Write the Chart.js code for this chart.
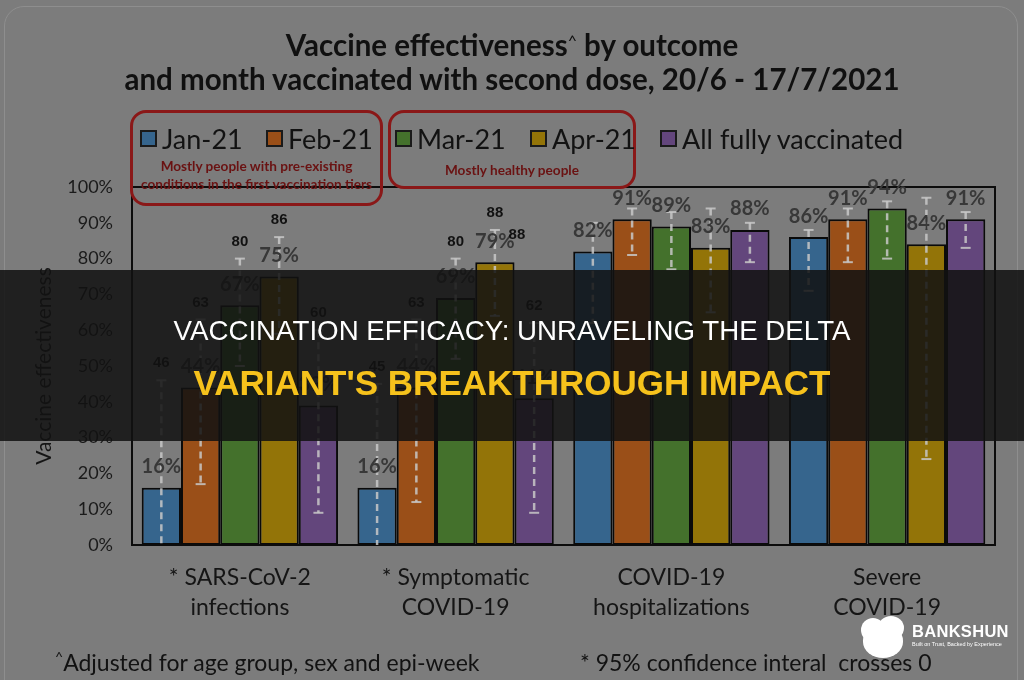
<!DOCTYPE html>
<html><head><meta charset="utf-8">
<script src="https://cdn.jsdelivr.net/npm/chart.js@4.4.1/dist/chart.umd.min.js"></script>
<style>
html,body{margin:0;padding:0;width:1024px;height:680px;overflow:hidden;background:#7c7c7c;}
#frame{position:absolute;left:4px;top:6px;width:1012px;height:700px;border:1px solid #8e8e8e;border-radius:20px;}
canvas{position:absolute;left:0;top:0;}
.ttl{position:absolute;left:0;width:1024px;text-align:center;font-family:Lato,"Open Sans",sans-serif;font-weight:bold;color:#101010;font-size:29.5px;white-space:nowrap;line-height:32px;}
.redbox{position:absolute;border:3px solid #8a1818;border-radius:16px;box-sizing:border-box;}
.sub{position:absolute;text-align:center;font-family:Lato,sans-serif;font-weight:bold;font-size:13.6px;color:#6a1212;white-space:nowrap;line-height:18px;}
.leg{position:absolute;top:123px;height:30px;display:flex;align-items:center;font-family:Lato,sans-serif;font-size:27px;color:#121212;white-space:nowrap;}
.leg i{display:inline-block;width:13px;height:13px;border:2px solid #1a1a1a;margin-right:5px;}
.foot{position:absolute;top:648px;font-family:Lato,sans-serif;font-size:23px;color:#121212;white-space:nowrap;}
#banner{position:absolute;left:0;top:270px;width:1024px;height:171px;background:rgba(18,18,18,0.86);z-index:5;}
.bl{position:absolute;left:0;width:1024px;text-align:center;font-family:"Liberation Sans",Arial,sans-serif;white-space:nowrap;}
#logo{position:absolute;left:858px;top:614px;width:160px;height:50px;z-index:6;}
.blob{position:absolute;background:#fff;border-radius:50%;}
</style></head>
<body>
<div id="frame"></div>
<canvas id="c" width="1024" height="680"></canvas>
<div class="ttl" style="top:24px">Vaccine effectiveness<span style="font-size:16px;vertical-align:10px;font-weight:normal">^</span> by outcome</div>
<div class="ttl" style="top:63px">and month vaccinated with second dose, 20/6 - 17/7/2021</div>
<div class="redbox" style="left:130px;top:110px;width:253px;height:96px"></div>
<div class="redbox" style="left:388px;top:110px;width:248px;height:79px"></div>
<div class="sub" style="left:130px;width:253px;top:157px">Mostly people with pre-existing</div>
<div class="sub" style="left:130px;width:253px;top:175px">conditions in the first vaccination tiers</div>
<div class="sub" style="left:388px;width:248px;top:161px">Mostly healthy people</div>
<div id="legend"></div>
<div class="foot" style="left:55px"><span style="font-size:14px;vertical-align:9px">^</span>Adjusted for age group, sex and epi-week</div>
<div class="foot" style="left:580px">* 95% confidence interal&nbsp; crosses 0</div>
<div id="banner">
  <div class="bl" style="top:45px;font-size:27.7px;color:#ffffff;">VACCINATION EFFICACY: UNRAVELING THE DELTA</div>
  <div class="bl" style="top:93px;font-size:35px;font-weight:bold;color:#f6c21c;">VARIANT'S BREAKTHROUGH IMPACT</div>
</div>
<div id="logo">
  <div class="blob" style="left:3px;top:4px;width:24px;height:24px"></div>
  <div class="blob" style="left:20px;top:2px;width:26px;height:24px"></div>
  <div class="blob" style="left:5px;top:12px;width:40px;height:32px;border-radius:45% 45% 50% 50%"></div>
  <div style="position:absolute;left:54px;top:8px;font-family:'Liberation Sans',Arial,sans-serif;font-weight:bold;font-size:16.5px;color:#fff;letter-spacing:0.3px">BANKSHUN</div>
  <div style="position:absolute;left:54px;top:27px;font-family:'Liberation Sans',Arial,sans-serif;font-size:5.5px;color:#fff;white-space:nowrap">Built on Trust, Backed by Experience</div>
</div>
<script>
// ---- data ----
const categories = [["* SARS-CoV-2","infections"],["* Symptomatic","COVID-19"],["COVID-19","hospitalizations"],["Severe","COVID-19"]];
const seriesNames = ["Jan-21","Feb-21","Mar-21","Apr-21","All fully vaccinated"];
const jan21  = [16, 16, 82, 86];
const feb21  = [44, 44, 91, 91];
const mar21  = [67, 69, 89, 94];
const apr21  = [75, 79, 83, 84];
const allVac = [39, 41, 88, 91];
// 95% CI lower / upper bounds
const janLow  = [-15, -15, 62, 71];
const janHigh = [46, 45, 90, 88];
const febLow  = [17, 12, 81, 79];
const febHigh = [63, 63, 94, 94];
const marLow  = [50, 52, 77, 80];
const marHigh = [80, 80, 93, 96];
const aprLow  = [59, 64, 65, 24];
const aprHigh = [86, 88, 94, 97];
const allLow  = [9, 9, 79, 83];
const allHigh = [60, 62, 90, 93];
const showUpperLabel = [true, true, false, false];
const yTickValues = [0,10,20,30,40,50,60,70,80,90,100];

const seriesValues = [jan21, feb21, mar21, apr21, allVac];
const seriesLow = [janLow, febLow, marLow, aprLow, allLow];
const seriesHigh = [janHigh, febHigh, marHigh, aprHigh, allHigh];
const seriesColors = ["#36658d","#9a4f18","#44712c","#937408","#63467c"];

// legend
const legendLeft = [140, 266, 395, 530, 660];
const lg = document.getElementById('legend');
seriesNames.forEach((n,i)=>{
  const d = document.createElement('div');
  d.className='leg'; d.style.left = legendLeft[i]+'px';
  d.innerHTML = '<i style="background:'+seriesColors[i]+'"></i>'+n;
  lg.appendChild(d);
});

const overlay = {
  id:'overlay',
  afterDatasetsDraw(chart){
    const ctx = chart.ctx, ca = chart.chartArea, ys = chart.scales.y;
    ctx.save();
    ctx.strokeStyle='#0c0c0c'; ctx.lineWidth=2;
    ctx.strokeRect(ca.left, ca.top, ca.right-ca.left, ca.bottom-ca.top);
    ctx.beginPath(); ctx.rect(ca.left, ca.top-40, ca.right-ca.left, ca.bottom-ca.top+40); ctx.clip();
    // error bars
    chart.data.datasets.forEach((ds,i)=>{
      const meta = chart.getDatasetMeta(i);
      meta.data.forEach((el,j)=>{
        const x = el.x;
        const yh = ys.getPixelForValue(seriesHigh[i][j]);
        const lowV = seriesLow[i][j];
        const yl = ys.getPixelForValue(Math.max(lowV, -5));
        ctx.strokeStyle='rgba(200,200,200,0.85)';
        ctx.lineWidth=2.5; ctx.setLineDash([7,5]);
        ctx.beginPath(); ctx.moveTo(x,yh); ctx.lineTo(x,yl); ctx.stroke();
        ctx.setLineDash([]); ctx.lineWidth=2;
        ctx.beginPath(); ctx.moveTo(x-5,yh); ctx.lineTo(x+5,yh); ctx.stroke();
        if (lowV > 0){ ctx.beginPath(); ctx.moveTo(x-5,yl); ctx.lineTo(x+5,yl); ctx.stroke(); }
      });
    });
    ctx.restore();
    ctx.save();
    ctx.textAlign='center'; ctx.textBaseline='middle';
    chart.data.datasets.forEach((ds,i)=>{
      const meta = chart.getDatasetMeta(i);
      meta.data.forEach((el,j)=>{
        ctx.font='bold 20px Lato, sans-serif'; ctx.fillStyle='#383838';
        ctx.fillText(ds.data[j]+'%', el.x, el.y-21);
        if (showUpperLabel[j]){
          const yh = ys.getPixelForValue(seriesHigh[i][j]);
          ctx.font='bold 15px "Liberation Sans", Arial, sans-serif'; ctx.fillStyle='#111';
          ctx.fillText(String(seriesHigh[i][j]), el.x, yh-17);
        }
      });
    });
    // duplicated upper label next to the Apr-21 symptomatic bar, as in the source
    const el = chart.getDatasetMeta(3).data[1];
    ctx.font='bold 15px "Liberation Sans", Arial, sans-serif'; ctx.fillStyle='#111';
    ctx.fillText(String(aprHigh[1]), el.x+22, ys.getPixelForValue(aprHigh[1])+5);
    ctx.restore();
  }
};

new Chart(document.getElementById('c'), {
  type:'bar',
  data:{labels:categories, datasets: seriesNames.map((n,i)=>({label:n, data:seriesValues[i], backgroundColor:seriesColors[i], borderColor:'#0a0a0a', borderWidth:2, borderSkipped:false, categoryPercentage:0.91, barPercentage:1.0}))},
  options:{
    responsive:false, animation:false, devicePixelRatio:1,
    layout:{padding:{top:187,right:29,left:0,bottom:0}},
    plugins:{legend:{display:false}, tooltip:{enabled:false}},
    scales:{
      x:{grid:{display:false,drawTicks:false}, border:{display:false},
         ticks:{color:'#151515', font:{family:'Lato', size:23, lineHeight:1.3}, padding:18, maxRotation:0, autoSkip:false},
         afterFit(s){ s.height = 135; }},
      y:{min:0, max:100, grid:{display:false,drawTicks:false}, border:{display:false},
         afterBuildTicks(s){ s.ticks = yTickValues.map(v=>({value:v})); },
         ticks:{color:'#1a1a1a', font:{family:'Lato', size:18}, padding:19, callback:v=>v+'%'},
         title:{display:true, text:'Vaccine effectiveness', color:'#151515', font:{family:'Lato', size:21}, padding:{top:32}},
         afterFit(s){ s.width = 132; }}
    }
  },
  plugins:[overlay]
});
</script>
</body></html>
